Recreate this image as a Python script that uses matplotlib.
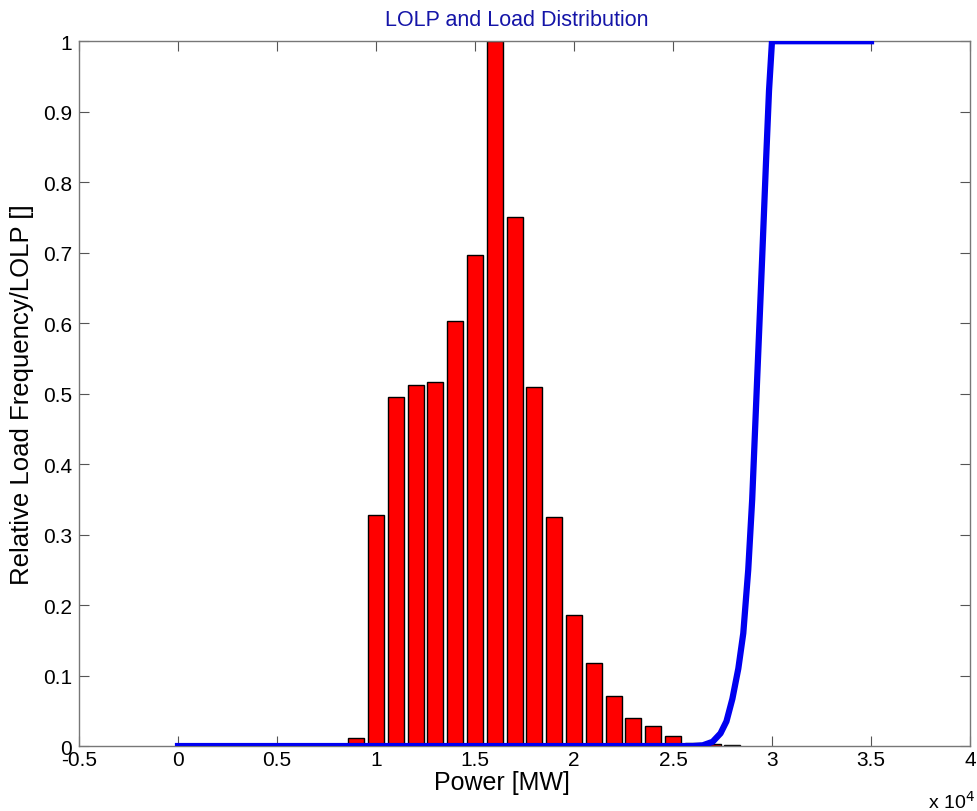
import matplotlib.pyplot as plt
from matplotlib.ticker import FuncFormatter, MultipleLocator

plt.rcParams["font.family"] = ["Liberation Sans", "DejaVu Sans"]

# load histogram (bin centres in MW, relative frequency)
load_mw = [9000, 10000, 11000, 12000, 13000, 14000, 15000, 16000, 17000,
           18000, 19000, 20000, 21000, 22000, 23000, 24000, 25000, 26000,
           27000, 28000]
load_freq = [0.011, 0.328, 0.495, 0.512, 0.517, 0.603, 0.696, 1.0, 0.750,
             0.510, 0.325, 0.186, 0.118, 0.071, 0.040, 0.028, 0.014, 0.005,
             0.003, 0.001]

# loss of load probability vs installed power
lolp_mw = [0, 5000, 10000, 20000, 26000, 26500, 27000, 27400, 27700, 28000,
           28300, 28550, 28800, 29000, 29250, 29500, 29700, 29850, 30000,
           35000]
lolp = [0, 0, 0, 0, 0, 0.001, 0.006, 0.018, 0.035, 0.067,
        0.11, 0.16, 0.25, 0.35, 0.52, 0.69, 0.83, 0.93, 1.0,
        1.0]

fig = plt.figure(figsize=(9.78, 8.12), dpi=100)
ax = fig.add_axes([0.0808, 0.080, 0.911, 0.868])

ax.bar(load_mw, load_freq, width=800, color="#ff0000", edgecolor="black",
       linewidth=1, zorder=2)
ax.plot(lolp_mw, lolp, color="#0000f0", linewidth=4.5, zorder=3,
        solid_joinstyle="round")

ax.set_xlim(-5000, 40000)
ax.set_ylim(0, 1)
ax.xaxis.set_major_locator(MultipleLocator(5000))
ax.yaxis.set_major_locator(MultipleLocator(0.1))
ax.xaxis.set_major_formatter(FuncFormatter(lambda v, p: f"{v / 1e4:g}"))
ax.yaxis.set_major_formatter(FuncFormatter(lambda v, p: f"{round(v, 1):g}"))

ax.tick_params(direction="in", top=True, right=True, length=7.5, width=0.8,
               color="#555555", labelsize=15)
ax.tick_params(axis="x", pad=3)
ax.tick_params(axis="y", pad=5)
for s in ax.spines.values():
    s.set_color("#777777")
    s.set_linewidth(1)

ax.set_title("LOLP and Load Distribution", color="#1515a8", fontsize=15.5,
             pad=12, x=0.491)
ax.set_xlabel("Power [MW]", fontsize=18)
ax.xaxis.set_label_coords(0.475, -0.034)
ax.set_ylabel("Relative Load Frequency/LOLP []", fontsize=18.5)
ax.yaxis.set_label_coords(-0.051, 0.5)
ax.text(1.006, -0.062, r"x 10$^4$", transform=ax.transAxes, fontsize=14,
        ha="right", va="top")

fig.savefig("out.png", dpi=100)
